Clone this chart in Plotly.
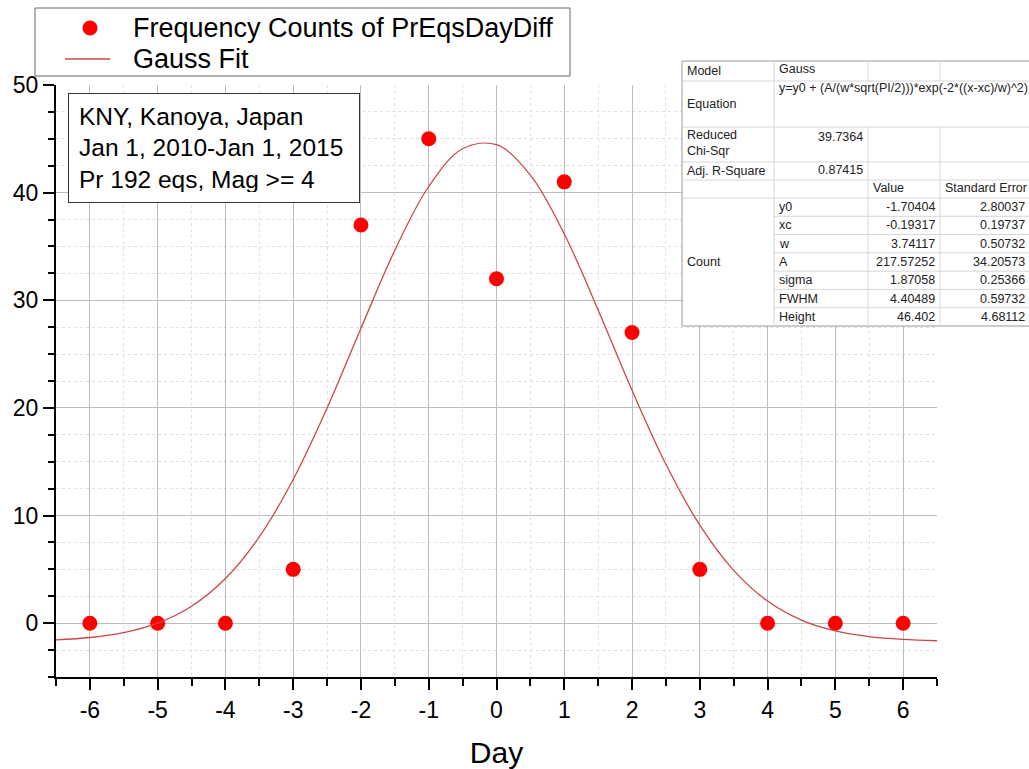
import plotly.graph_objects as go

## data ----
days = [-6, -5, -4, -3, -2, -1, 0, 1, 2, 3, 4, 5, 6]
counts = [0, 0, 0, 5, 37, 45, 32, 41, 27, 5, 0, 0, 0]

# Gauss fit curve, every half day
fit_x = [-6.5, -6, -5.5, -5, -4.5, -4, -3.5, -3, -2.5, -2, -1.5, -1, -0.5, 0,
         0.5, 1, 1.5, 2, 2.5, 3, 3.5, 4, 4.5, 5, 5.5, 6, 6.5]
fit_y = [-1.55, -1.33, -0.88, 0.0, 1.57, 4.15, 8.02, 13.35, 19.99, 27.4, 34.65, 40.57, 44.08, 44.45,
         41.62, 36.16, 29.1, 21.63, 14.76, 9.11, 4.91, 2.06, 0.29, -0.72, -1.25, -1.51, -1.63]

x_ticks = [-6, -5, -4, -3, -2, -1, 0, 1, 2, 3, 4, 5, 6]
x_tick_labels = ["-6", "-5", "-4", "-3", "-2", "-1", "0", "1", "2", "3", "4", "5", "6"]
y_ticks = [0, 10, 20, 30, 40, 50]
y_tick_labels = ["0", "10", "20", "30", "40", "50"]

series_names = ["Frequency Counts of PrEqsDayDiff", "Gauss Fit"]
info_lines = ["KNY, Kanoya, Japan", "Jan 1, 2010-Jan 1, 2015", "Pr 192 eqs, Mag >= 4"]

# fit report table
model_name = "Gauss"
equation = "y=y0 + (A/(w*sqrt(PI/2)))*exp(-2*((x-xc)/w)^2)"
reduced_chi_sqr = "39.7364"
adj_r_square = "0.87415"
param_names = ["y0", "xc", "w", "A", "sigma", "FWHM", "Height"]
param_values = ["-1.70404", "-0.19317", "3.74117", "217.57252", "1.87058", "4.40489", "46.402"]
param_errors = ["2.80037", "0.19737", "0.50732", "34.20573", "0.25366", "0.59732", "4.68112"]

## layout helpers ----
W, H = 1029, 769
L, R, T, B = 56, 92, 85, 92
PW, PH = W - L - R, H - T - B
FONT = "Arial, Liberation Sans, sans-serif"
DOT_RED = '#ff0000'
FIT_RED = '#c84848'


def px_x(p):
    return (p - L) / PW


def px_y(p):
    return (H - B - p) / PH


### generate chart ----
fig = go.Figure()

fig.add_trace(go.Scatter(
    x=days, y=counts, mode='markers',
    marker=dict(color=DOT_RED, size=15),
    name=series_names[0], showlegend=False,
))
fig.add_trace(go.Scatter(
    x=fit_x, y=fit_y, mode='lines', line_shape='spline',
    line=dict(color=FIT_RED, width=1.3),
    name=series_names[1], showlegend=False,
))

axis_style = dict(
    showline=True, linecolor='black', linewidth=2,
    ticks='outside', ticklen=11, tickwidth=2, tickcolor='black',
    tickfont=dict(family=FONT, size=23, color='black'),
    showgrid=True, gridcolor='#bdbdbd', gridwidth=1,
    zeroline=False, mirror=False, automargin=False,
)

fig.update_layout(
    width=W, height=H,
    margin=dict(l=L, r=R, t=T, b=B),
    paper_bgcolor='white', plot_bgcolor='white',
    font=dict(family=FONT, color='black'),
    xaxis=dict(**axis_style, range=[-6.5, 6.5], tickvals=x_ticks, ticktext=x_tick_labels,
               minor=dict(dtick=0.5, tick0=0, ticklen=7, tickwidth=2, tickcolor='black',
                          ticks='outside', showgrid=True, gridcolor='#e0e0e0', griddash='dot'),
               title=dict(text='Day', font=dict(size=30), standoff=20)),
    yaxis=dict(**axis_style, range=[-5, 50], tickvals=y_ticks, ticktext=y_tick_labels,
               minor=dict(dtick=2.5, tick0=0, ticklen=6, tickwidth=2, tickcolor='black',
                          ticks='outside', showgrid=True, gridcolor='#e0e0e0', griddash='dot')),
    showlegend=False,
)

# legend box, drawn by hand to match the original layout
fig.add_shape(type='rect', xref='paper', yref='paper', layer='above',
              x0=px_x(35), x1=px_x(570), y0=px_y(8), y1=px_y(76),
              fillcolor='white', line=dict(color='#666', width=1))
fig.add_shape(type='circle', xref='paper', yref='paper', layer='above',
              x0=px_x(82.5), x1=px_x(97.5), y0=px_y(20.5), y1=px_y(35.5),
              fillcolor=DOT_RED, line=dict(color=DOT_RED, width=0))
fig.add_shape(type='line', xref='paper', yref='paper', layer='above',
              x0=px_x(65), x1=px_x(110), y0=px_y(59), y1=px_y(59),
              line=dict(color=FIT_RED, width=1.3))
for name, yc in zip(series_names, (28, 59)):
    fig.add_annotation(xref='paper', yref='paper', x=px_x(131), y=px_y(yc),
                       xanchor='left', yanchor='middle', text=name, showarrow=False,
                       font=dict(family=FONT, size=27, color='black'))

# info box
fig.add_annotation(
    xref='paper', yref='paper', x=px_x(68), y=px_y(93),
    xanchor='left', yanchor='top', align='left', valign='middle',
    text='<br>'.join(info_lines), showarrow=False,
    font=dict(family=FONT, size=24.5, color='black'),
    bgcolor='white', bordercolor='#333', borderwidth=1, borderpad=10,
    width=270, height=88,
)

# fit report table (drawn above the plot)
c0, c1, c2, c3, c4 = 682, 774, 868, 940, 1045
rows = [61, 81, 127, 162, 180, 198]
prow = (326 - 198) / len(param_names)
bottom = 326
grid = '#d6d6d6'


def hline(y, xa, xb, color=grid):
    fig.add_shape(type='line', xref='paper', yref='paper', layer='above',
                  x0=px_x(xa), x1=px_x(xb), y0=px_y(y), y1=px_y(y),
                  line=dict(color=color, width=1))


def vline(x, ya, yb, color=grid):
    fig.add_shape(type='line', xref='paper', yref='paper', layer='above',
                  x0=px_x(x), x1=px_x(x), y0=px_y(ya), y1=px_y(yb),
                  line=dict(color=color, width=1))


def cell(text, x, y, anchor='left'):
    fig.add_annotation(xref='paper', yref='paper', x=px_x(x), y=px_y(y),
                       xanchor=anchor, yanchor='middle', align=anchor,
                       text=text, showarrow=False, borderpad=0,
                       font=dict(family=FONT, size=12.5, color='#222'))


fig.add_shape(type='rect', xref='paper', yref='paper', layer='above',
              x0=px_x(c0), x1=px_x(c4), y0=px_y(rows[0]), y1=px_y(bottom),
              fillcolor='white', line=dict(color='#999', width=1))
for r in rows[1:]:
    hline(r, c0, c4)
for k in range(1, len(param_names)):
    hline(rows[-1] + k * prow, c1, c4)
vline(c1, rows[0], bottom)
for c in (c2, c3):
    vline(c, rows[0], rows[1])
    vline(c, rows[2], bottom)

cell('Model', 686, 71)
cell(model_name, 778, 69)
cell('Equation', 686, 104)
cell(equation, 778, 88)
cell('Reduced<br>Chi-Sqr', 686, 143)
cell(reduced_chi_sqr, 864, 137, 'right')
cell('Adj. R-Square', 686, 171)
cell(adj_r_square, 864, 170, 'right')
cell('Value', 872, 188)
cell('Standard Error', 944, 188)
cell('Count', 686, 262)
for i, (n, v, e) in enumerate(zip(param_names, param_values, param_errors)):
    yc = rows[-1] + (i + 0.5) * prow
    cell(n, 778, yc)
    cell(v, 936, yc, 'right')
    cell(e, 1026, yc, 'right')

fig.write_html("out.html", config={'displayModeBar': False},
               post_script="document.body.style.margin='0';")
